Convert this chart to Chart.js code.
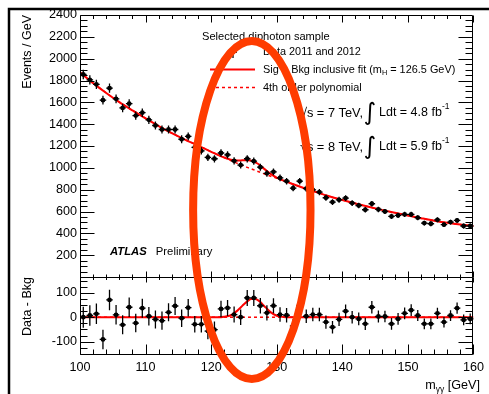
<!DOCTYPE html>
<html>
<head>
<meta charset="utf-8">
<script src="https://cdn.jsdelivr.net/npm/chart.js@4.4.1/dist/chart.umd.min.js"></script>
<style>
  html, body { margin: 0; padding: 0; background: #fff; }
  #wrap { position: relative; width: 489px; height: 394px; }
</style>
</head>
<body>
<div id="wrap"><canvas id="chart" width="489" height="394"></canvas></div>
<script>
// diphoton mass spectrum, 1 GeV bins between 100 and 160 GeV
const binCenters = [100.5,101.5,102.5,103.5,104.5,105.5,106.5,107.5,108.5,109.5,
  110.5,111.5,112.5,113.5,114.5,115.5,116.5,117.5,118.5,119.5,
  120.5,121.5,122.5,123.5,124.5,125.5,126.5,127.5,128.5,129.5,
  130.5,131.5,132.5,133.5,134.5,135.5,136.5,137.5,138.5,139.5,
  140.5,141.5,142.5,143.5,144.5,145.5,146.5,147.5,148.5,149.5,
  150.5,151.5,152.5,153.5,154.5,155.5,156.5,157.5,158.5,159.5];

const events = [1855,1806,1765,1620,1730,1632,1549,1588,1479,1505,
  1440,1388,1351,1351,1351,1262,1288,1188,1156,1095,
  1083,1136,1119,1064,1025,1083,1061,1006,950,963,
  908,878,814,878,810,799,778,726,686,707,
  723,677,655,616,671,619,600,555,564,573,
  573,543,494,488,524,479,503,518,467,467];

const eventErr = [43,42,42,40,42,40,39,40,38,39,
  38,37,37,37,37,36,36,34,34,33,
  33,34,33,33,32,33,33,32,31,31,
  30,30,29,30,28,28,28,27,26,27,
  27,26,26,25,26,25,24,24,24,24,
  24,23,22,22,23,22,22,23,22,22];

// data minus the polynomial background
const residuals = [0,7,14,-91,71,10,-31,41,-24,37,
  4,-9,-14,20,46,-4,39,-29,-29,-57,
  -51,34,38,11,0,79,79,47,18,47,
  11,8,-36,49,4,11,11,-20,-41,-9,
  25,0,-7,-27,41,3,3,-27,-7,16,
  29,7,-27,-27,16,-20,7,37,-11,-7];

// fit curves sampled along m_yy
const fitMass = [100,102,104,106,108,110,112,114,116,118,120,121,122,123,124,124.5,125,125.5,
  126,126.5,127,127.5,128,128.5,129,130,131,132,134,136,138,140,142,144,146,148,150,152,154,156,158,160];
const bkgFit = [1875,1776,1686,1602,1526,1453,1383,1318,1259,1204,1147,1120,1093,1067,1041,1028,1016,1004,
  993,982,970,959,947,935,925,905,883,861,818,778,739,705,673,643,615,588,563,539,516,496,480,468];
const sigFit = [0,0,0,0,0,0,0,0,0,0,0,0,2,8,27,40,53,65,
  74,76,72,62,48,35,22,6,1,0,0,0,0,0,0,0,0,0,0,0,0,0,0,0];

const zeroMass = [100, 160];
const zeroLine = [0, 0];

const xTicksMajor = 10, xTicksMinor = 2;

const FONT = "'Liberation Sans', Arial, Helvetica, sans-serif";
const RED = '#ff0000';
const HILITE = '#ff3c00';

const toXY = (xs, ys) => xs.map((x, i) => ({ x: x, y: ys[i] }));
const sigPlusBkg = bkgFit.map((b, i) => b + sigFit[i]);

// vertical (stat) and horizontal (bin width) error bars
const errorBars = {
  id: 'errorBars',
  afterDatasetsDraw(chart) {
    const ctx = chart.ctx;
    const xs = chart.scales.x;
    chart.data.datasets.forEach((ds, i) => {
      if (!ds.errors) return;
      const ys = chart.scales[ds.yAxisID];
      ctx.save();
      ctx.strokeStyle = '#000';
      ctx.lineWidth = 1.3;
      ctx.beginPath();
      ds.data.forEach((p, j) => {
        const px = xs.getPixelForValue(p.x);
        const py = ys.getPixelForValue(p.y);
        ctx.moveTo(px, ys.getPixelForValue(p.y - ds.errors[j]));
        ctx.lineTo(px, ys.getPixelForValue(p.y + ds.errors[j]));
        ctx.moveTo(xs.getPixelForValue(p.x - 0.5), py);
        ctx.lineTo(xs.getPixelForValue(p.x + 0.5), py);
      });
      ctx.stroke();
      ctx.restore();
    });
  }
};

function xTicks(ctx, xs, y, dir, major, minor) {
  for (let m = xs.min; m <= xs.max; m += xTicksMinor) {
    const px = Math.round(xs.getPixelForValue(m)) + 0.5;
    const len = (m % xTicksMajor === 0) ? major : minor;
    ctx.moveTo(px, y);
    ctx.lineTo(px, y + dir * len);
  }
}

function yTicks(ctx, ys, left, right, from, to, step, majorStep, major, minor) {
  for (let v = from; v <= to; v += step) {
    const py = Math.round(ys.getPixelForValue(v)) + 0.5;
    const len = (v % majorStep === 0) ? major : minor;
    ctx.moveTo(left, py); ctx.lineTo(left + len, py);
    ctx.moveTo(right, py); ctx.lineTo(right - len, py);
  }
}

function text(ctx, str, x, y, size, opts) {
  opts = opts || {};
  ctx.font = (opts.style || '') + ' ' + size + 'px ' + (opts.family || FONT);
  ctx.textAlign = opts.align || 'left';
  ctx.fillText(str, x, y);
  return ctx.measureText(str).width;
}

// frames, ROOT style tick marks, labels and the highlight ring
const decorations = {
  id: 'decorations',
  afterDraw(chart) {
    const ctx = chart.ctx;
    const xs = chart.scales.x, yt = chart.scales.y, yb = chart.scales.yRes;
    const L = Math.round(xs.left) + 0.5, R = Math.round(xs.right) - 0.5;
    const T = Math.round(yt.top) + 0.5, M = Math.round(yt.bottom) + 0.5, B = Math.round(yb.bottom) - 0.5;

    ctx.save();
    ctx.strokeStyle = '#000';
    ctx.lineWidth = 1;
    ctx.beginPath();
    ctx.rect(L, T, R - L, M - T);
    ctx.rect(L, M, R - L, B - M);
    xTicks(ctx, xs, T, 1, 7, 3.5);
    xTicks(ctx, xs, M, -1, 6, 3);
    xTicks(ctx, xs, M, 1, 5, 2.5);
    xTicks(ctx, xs, B, -1, 10, 5);
    yTicks(ctx, yt, L, R, 50, 2350, 50, 200, 14, 7);
    yTicks(ctx, yb, L, R, -150, 150, 25, 100, 14, 7);
    ctx.stroke();

    // outer page border
    ctx.lineWidth = 2.5;
    ctx.beginPath();
    ctx.moveTo(9, 394); ctx.lineTo(9, 9); ctx.lineTo(489, 9);
    ctx.stroke();

    ctx.fillStyle = '#000';
    ctx.textBaseline = 'middle';

    // x axis title
    const xr = 480, yTitle = 386;
    ctx.font = '12.6px ' + FONT;
    const wTail = ctx.measureText(' [GeV]').width;
    const wM = ctx.measureText('m').width;
    ctx.font = '8.5px ' + FONT;
    const wSub = ctx.measureText('\u03b3\u03b3').width;
    let x0 = xr - wTail - wSub - wM;
    text(ctx, 'm', x0, yTitle, 12.6);
    text(ctx, '\u03b3\u03b3', x0 + wM, yTitle + 4, 8.5);
    text(ctx, ' [GeV]', x0 + wM + wSub, yTitle, 12.6);

    // legend
    const lf = 10.9;
    text(ctx, 'Selected diphoton sample', 202, 37, 11.1);
    ctx.beginPath();
    ctx.arc(233, 52, 2.4, 0, Math.PI * 2);
    ctx.fill();
    ctx.beginPath();
    ctx.lineWidth = 1.3;
    ctx.moveTo(233, 46); ctx.lineTo(233, 58);
    ctx.moveTo(229, 52); ctx.lineTo(237, 52);
    ctx.stroke();
    text(ctx, 'Data 2011 and 2012', 263, 52, lf);

    ctx.strokeStyle = RED;
    ctx.lineWidth = 2;
    ctx.beginPath(); ctx.moveTo(210, 69.5); ctx.lineTo(255, 69.5); ctx.stroke();
    let w = text(ctx, 'Sig + Bkg inclusive fit (m', 263, 69.5, lf);
    let w2 = text(ctx, 'H', 263 + w, 73, 7.3);
    text(ctx, ' = 126.5 GeV)', 263 + w + w2, 69.5, lf);

    ctx.lineWidth = 1.5;
    ctx.setLineDash([3, 3]);
    ctx.beginPath(); ctx.moveTo(210, 87.5); ctx.lineTo(255, 87.5); ctx.stroke();
    ctx.setLineDash([]);
    text(ctx, '4th order polynomial', 263, 87.5, lf);

    // run conditions
    [['7', '4.8', 113], ['8', '5.9', 147]].forEach(([e, lumi, y]) => {
      text(ctx, '\u221As = ' + e + ' TeV,', 363, y, 12.8, { align: 'right' });
      text(ctx, '\u222B', 370, y + 1, 24, { align: 'center', family: "'DejaVu Sans', sans-serif" });
      const wl = text(ctx, 'Ldt = ' + lumi + ' fb', 379, y, 12.5);
      text(ctx, '-1', 379 + wl, y - 6, 8.5);
    });

    const wa = text(ctx, 'ATLAS', 110, 252, 11.3, { style: 'italic bold' });
    text(ctx, 'Preliminary', 110 + wa + 9, 252, 11.3);

    // highlight ring around the excess
    const cx = xs.getPixelForValue(126.2);
    const rx = xs.getPixelForValue(126.2 + 8.95) - cx;
    ctx.strokeStyle = HILITE;
    ctx.lineWidth = 8;
    ctx.beginPath();
    ctx.ellipse(cx, 210, rx, 169, 0, 0, Math.PI * 2);
    ctx.stroke();
    ctx.restore();
  }
};

const tickFont = { size: 12.6, family: FONT };
const titleFont = { size: 12.5, family: FONT };

new Chart(document.getElementById('chart'), {
  type: 'line',
  data: {
    datasets: [
      { label: 'Data 2011 and 2012', data: toXY(binCenters, events), yAxisID: 'y', showLine: false,
        pointRadius: 2.4, pointBackgroundColor: '#000', pointBorderWidth: 0, errors: eventErr },
      { label: 'Sig + Bkg inclusive fit', data: toXY(fitMass, sigPlusBkg), yAxisID: 'y',
        borderColor: RED, borderWidth: 2, pointRadius: 0, cubicInterpolationMode: 'monotone' },
      { label: '4th order polynomial', data: toXY(fitMass, bkgFit), yAxisID: 'y',
        borderColor: RED, borderWidth: 1.5, borderDash: [3, 3], pointRadius: 0, cubicInterpolationMode: 'monotone' },
      { label: 'Data - Bkg', data: toXY(binCenters, residuals), yAxisID: 'yRes', showLine: false,
        pointRadius: 2.4, pointBackgroundColor: '#000', pointBorderWidth: 0, errors: eventErr },
      { label: 'Signal', data: toXY(fitMass, sigFit), yAxisID: 'yRes',
        borderColor: RED, borderWidth: 2, pointRadius: 0, cubicInterpolationMode: 'monotone' },
      { label: 'Zero', data: toXY(zeroMass, zeroLine), yAxisID: 'yRes',
        borderColor: RED, borderWidth: 1.5, borderDash: [3, 3], pointRadius: 0 }
    ]
  },
  options: {
    responsive: false,
    animation: false,
    devicePixelRatio: 1,
    layout: { padding: { top: 15, right: 10, left: 0, bottom: 0 } },
    plugins: { legend: { display: false }, tooltip: { enabled: false } },
    scales: {
      x: {
        type: 'linear', position: 'bottom', min: 100, max: 160,
        grid: { display: false, drawTicks: false }, border: { display: false },
        ticks: { stepSize: 10, padding: 5, maxRotation: 0, autoSkip: false, color: '#000', font: tickFont },
        afterFit: s => { s.height = 39; }
      },
      yRes: {
        type: 'linear', position: 'left', stack: 'panels', stackWeight: 78, min: -155, max: 165,
        grid: { display: false, drawTicks: false }, border: { display: false },
        ticks: { stepSize: 100, includeBounds: false, autoSkip: false, padding: 3, color: '#000', font: tickFont,
          callback: v => (v % 100 === 0 ? v : '') },
        title: { display: true, text: 'Data - Bkg', align: 'end', color: '#000', font: titleFont,
          padding: { top: 20, bottom: 0 } },
        afterFit: s => { s.width = 80; }
      },
      y: {
        type: 'linear', position: 'left', stack: 'panels', stackWeight: 262, min: 0, max: 2400,
        grid: { display: false, drawTicks: false }, border: { display: false },
        ticks: { stepSize: 200, autoSkip: false, padding: 3, color: '#000', font: tickFont,
          callback: v => (v === 0 ? '' : v) },
        title: { display: true, text: 'Events / GeV', align: 'end', color: '#000', font: titleFont,
          padding: { top: 20, bottom: 0 } },
        afterFit: s => { s.width = 80; }
      }
    }
  },
  plugins: [errorBars, decorations]
});
</script>
</body>
</html>
